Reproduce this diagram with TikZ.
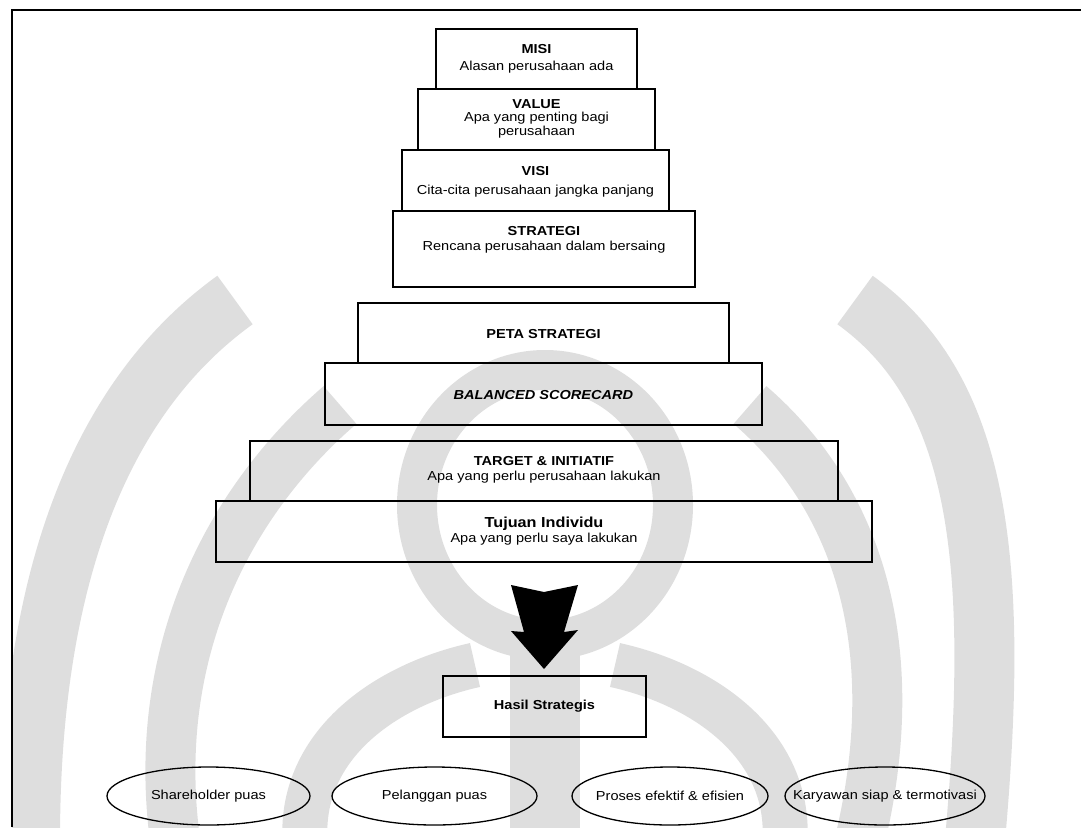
\documentclass[tikz,border=0pt]{standalone}
\usepackage{fontspec}
\setmainfont{Liberation Sans}[FakeStretch=1.12]
\usetikzlibrary{shapes.geometric}
\begin{document}
\begin{tikzpicture}[x=1pt,y=-1pt,
  frame/.style={line width=1.6pt, black},
  box/.style={draw=black, line width=1.3pt, inner sep=0pt, minimum width=#1},
  txt/.style={align=center, inner sep=0pt, font=\fontsize{13}{13.5}\selectfont},
  goal/.style={draw=black, line width=1.3pt, ellipse, inner sep=0pt, minimum height=58pt, minimum width=#1},
  mark/.style={black!13, line width=#1, line cap=butt}]
\useasboundingbox (0,0) rectangle (1081,827);

% faint emblem in the background
\begin{scope}
\clip (12,10) rectangle (1081,827);
\draw[mark=60] (235,300) .. controls (110,390) and (30,560) .. (30,840);
\draw[mark=60] (855,300) .. controls (980,390) and (1000,560) .. (975,840);
\draw[mark=50] (340,405) .. controls (230,500) and (150,650) .. (175,840);
\draw[mark=50] (750,405) .. controls (860,500) and (905,650) .. (860,840);
\draw[mark=40] (545,505) ellipse [x radius=128, y radius=135];
\draw[mark=70] (545,650) -- (545,840);
\draw[mark=45] (305,840) .. controls (300,745) and (385,685) .. (475,665);
\draw[mark=45] (785,840) .. controls (790,745) and (705,685) .. (615,665);
\end{scope}

% outer frame
\draw[frame] (12,827) -- (12,10) -- (1081,10);

% upper stack
\node[box=201, minimum height=60] (misi) at (536.5,59) {};
\node[txt] (misi-t) at (536.5,59) {\textbf{MISI}\\[3pt]Alasan perusahaan ada};
\node[box=237, minimum height=61] (value) at (536.5,119.5) {};
\node[txt] (value-t) at (536.5,118.5) {\textbf{VALUE}\\Apa yang penting bagi\\perusahaan};
\node[box=267, minimum height=61] (visi) at (535.5,180.5) {};
\node[txt] (visi-t) at (535.5,182) {\textbf{VISI}\\[6pt]Cita-cita perusahaan jangka panjang};
\node[box=302, minimum height=76] (strategi) at (544,249) {};
\node[txt] (strategi-t) at (544,240) {\textbf{STRATEGI}\\[2pt]Rencana perusahaan dalam bersaing};

% lower stack
\node[box=371, minimum height=60] (peta) at (543.5,333) {};
\node[txt] (peta-t) at (543.5,334) {\textbf{PETA STRATEGI}};
\node[box=437, minimum height=62] (bsc) at (543.5,394) {};
\node[txt] (bsc-t) at (543.5,395) {\textbf{\textit{BALANCED SCORECARD}}};
\node[box=588, minimum height=60] (target) at (544,471) {};
\node[txt] (target-t) at (544,470) {\textbf{TARGET \& INITIATIF}\\[2pt]Apa yang perlu perusahaan lakukan};
\node[box=656, minimum height=61] (tujuan) at (544,531.5) {};
\node[txt] (tujuan-t) at (544,531) {{\fontsize{14.5}{15}\selectfont\textbf{Tujuan Individu}}\\[2pt]Apa yang perlu saya lakukan};

% block arrow down to the outcome
\fill[black] (511,585) -- (544,592) -- (578,585) -- (564,632) -- (578,630)
  -- (544,669) -- (511,631) -- (524,632) -- cycle;

\node[box=203, minimum height=61] (hasil) at (544.5,706.5) {};
\node[txt] (hasil-t) at (544.5,706) {\textbf{Hasil Strategis}};

% outcomes
\node[goal=203] (g1) at (208.5,796) {};
\node[txt] (g1-t) at (208.5,796) {Shareholder puas};
\node[goal=205] (g2) at (434.5,796) {};
\node[txt] (g2-t) at (434.5,796) {Pelanggan puas};
\node[goal=196] (g3) at (670,796) {};
\node[txt] (g3-t) at (670,796) {Proses efektif \& efisien};
\node[goal=200] (g4) at (885,796) {};
\node[txt] (g4-t) at (885,796) {Karyawan siap \& termotivasi};
\end{tikzpicture}
\end{document}
